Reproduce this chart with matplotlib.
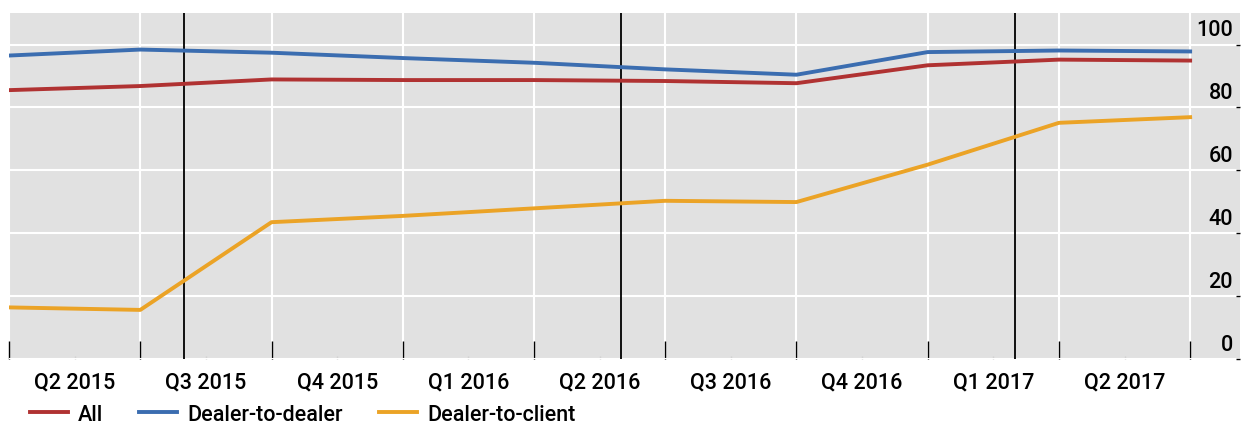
import numpy as np
import matplotlib
matplotlib.use("Agg")
import matplotlib.pyplot as plt
from matplotlib.transforms import ScaledTranslation

# quarterly data points (plotted at quarter boundaries)
quarters = ["Q2 2015", "Q3 2015", "Q4 2015", "Q1 2016", "Q2 2016",
            "Q3 2016", "Q4 2016", "Q1 2017", "Q2 2017"]
all_trades = [85.5, 86.8, 88.9, 88.7, 88.7, 88.4, 87.7, 93.4, 95.2, 94.9]
dealer_to_dealer = [96.5, 98.4, 97.4, 95.7, 94.2, 92.1, 90.4, 97.6, 98.1, 97.8]
dealer_to_client = [16.4, 15.6, 43.5, 45.5, 47.9, 50.3, 49.9, 61.8, 75.1, 76.9]
events = [4 / 3, 14 / 3, 23 / 3]  # vertical event markers
yticks = [0, 20, 40, 60, 80, 100]

plt.rcParams['font.family'] = ['Roboto', 'DejaVu Sans']
plt.rcParams['font.size'] = 15.5
plt.rcParams['font.weight'] = 'medium'

fig = plt.figure(figsize=(12.41, 4.27), dpi=100)
ax = fig.add_axes([0.0073, 0.157, 0.9919, 0.81])
ax.set_facecolor('#e1e1e1')
for s in ax.spines.values():
    s.set_visible(False)

x = np.arange(len(all_trades))
ax.plot(x, all_trades, color='#b03232', lw=2.8, label='All', zorder=3)
ax.plot(x, dealer_to_dealer, color='#3b6db0', lw=2.8, label='Dealer-to-dealer', zorder=3)
ax.plot(x, dealer_to_client, color='#eba326', lw=2.8, label='Dealer-to-client', zorder=3)

for e in events:
    ax.axvline(e, color='black', lw=1.3, zorder=2)

ax.set_xlim(0, 9.38)
ax.set_ylim(0, 110)

# grid at quarter boundaries, labels centred between them
ax.set_xticks(np.arange(0, 10))
ax.set_xticklabels([])
ax.set_xticks(np.arange(len(quarters)) + 0.5, minor=True)
ax.set_xticklabels(quarters, minor=True)
ax.grid(True, which='major', color='white', lw=1.5, zorder=1)
ax.set_axisbelow(True)
ax.tick_params(axis='x', which='major', direction='in', length=13, width=1, color='black')
ax.tick_params(axis='x', which='minor', direction='in', length=2, width=1,
               color='#d0d0d0', pad=9)

ax.yaxis.tick_right()
ax.set_yticks(yticks)
ax.set_yticklabels([str(v) for v in yticks], ha='right', va='bottom')
ax.tick_params(axis='y', direction='in', length=3, width=1, color='black', pad=-5)
for lab in ax.get_yticklabels():
    lab.set_transform(lab.get_transform() + ScaledTranslation(0, 3 / 72, fig.dpi_scale_trans))

fig.legend(loc='lower left', bbox_to_anchor=(0.024, 0.0025), ncol=3, frameon=False,
           borderpad=0, borderaxespad=0, handlelength=1.77, handletextpad=0.47,
           columnspacing=1.67)

fig.savefig('out.png', dpi=100)
